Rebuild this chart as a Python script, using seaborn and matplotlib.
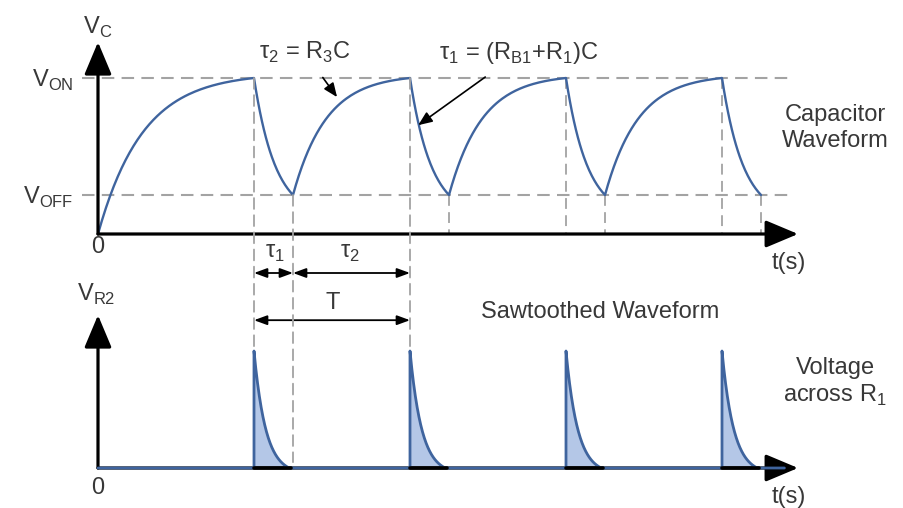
import numpy as np
import pandas as pd
import matplotlib
matplotlib.use("Agg")
import matplotlib.pyplot as plt
import seaborn as sns
from matplotlib.patches import ConnectionPatch

# waveform values (time in units of tau1, voltage in same units)
t_peak = [4, 8, 12, 16]        # capacitor reaches V_ON, UJT fires
t_trough = [5, 9, 13, 17]      # capacitor back down at V_OFF
V_ON = 4.0
V_OFF = 1.0
tau_first = 1.15               # first charge from 0 V
tau_charge = 0.85              # later charges from V_OFF
tau_dis = 0.55                 # discharge through RB1 + R1
spike_peak = 3.0               # V_ON - V_OFF across R1
spike_len = 0.9
tau_spike = 0.3

BLUE = "#3f649e"
FILL = "#b4c7e7"
GRAY = "#a3a3a3"
TXT = "#383838"

sns.set_theme(style="white")
plt.rcParams["font.family"] = ["Liberation Sans", "DejaVu Sans"]
plt.rcParams["mathtext.fontset"] = "custom"
plt.rcParams["mathtext.rm"] = "Liberation Sans"
fs = 17


def charge(t0, t1, v0, v1, tau):
    s = np.linspace(0, t1 - t0, 80)
    v = v0 + (v1 - v0) * (1 - np.exp(-s / tau)) / (1 - np.exp(-(t1 - t0) / tau))
    return t0 + s, v


def discharge(t0, t1, v0, v1, tau):
    s = np.linspace(0, t1 - t0, 60)
    b = np.exp(-(t1 - t0) / tau)
    v = v1 + (v0 - v1) * (np.exp(-s / tau) - b) / (1 - b)
    return t0 + s, v


# build capacitor waveform
parts_t, parts_v = [], []
tt, vv = charge(0, t_peak[0], 0, V_ON, tau_first)
parts_t.append(tt); parts_v.append(vv)
for k in range(len(t_peak)):
    tt, vv = discharge(t_peak[k], t_trough[k], V_ON, V_OFF, tau_dis)
    parts_t.append(tt); parts_v.append(vv)
    if k + 1 < len(t_peak):
        tt, vv = charge(t_trough[k], t_peak[k + 1], V_OFF, V_ON, tau_charge)
        parts_t.append(tt); parts_v.append(vv)
cap = pd.DataFrame({"t": np.concatenate(parts_t), "V": np.concatenate(parts_v)})

# build voltage across R1 (spikes)
rt, rv = [0.0], [0.0]
spikes = []
for tp in t_peak:
    s = np.linspace(0, spike_len, 60)
    b = np.exp(-spike_len / tau_spike)
    v = spike_peak * (np.exp(-s / tau_spike) - b) / (1 - b)
    spikes.append((tp + s, v))
    rt += [tp, tp] + list(tp + s)
    rv += [0.0, spike_peak] + list(v)
rt.append(17.6); rv.append(0.0)
vr = pd.DataFrame({"t": rt, "V": rv})

fig = plt.figure(figsize=(9.04, 5.08), dpi=100)
ax_top = fig.add_axes([0, 0.5, 1, 0.5])
ax_bot = fig.add_axes([0, 0, 1, 0.5])
xl = (-98 / 39, (904 - 98) / 39)
ax_top.set_xlim(xl)
ax_top.set_ylim(-20 / 39, 234 / 39)
ax_bot.set_xlim(xl)
ax_bot.set_ylim(-40 / 39, 214 / 39)
for ax in (ax_top, ax_bot):
    ax.set_axis_off()
    ax.patch.set_alpha(0)

dash = dict(color=GRAY, lw=1.5, dashes=(6, 3.5), zorder=1)
vdash = dict(color=GRAY, lw=1.3, dashes=(6, 3.5), zorder=1)

# ---- top: capacitor waveform ----
ax_top.plot([-0.41, 17.8], [V_ON, V_ON], **dash)
ax_top.plot([-0.41, 17.8], [V_OFF, V_OFF], **dash)
for tp in t_peak[2:]:
    ax_top.plot([tp, tp], [V_ON, 0], **vdash)
for tr in t_trough[1:]:
    ax_top.plot([tr, tr], [V_OFF, 0], **vdash)

sns.lineplot(data=cap, x="t", y="V", ax=ax_top, color=BLUE, lw=1.7,
             sort=False, estimator=None, zorder=3)

arrow = dict(arrowstyle="-|>,head_length=1.0,head_width=0.42", mutation_scale=20,
             lw=2.3, color="black", shrinkA=0, shrinkB=0)
ax_top.annotate("", xy=(0, 4.92), xytext=(0, 0), arrowprops=arrow, zorder=4)
ax_top.annotate("", xy=(17.95, 0), xytext=(0, 0), arrowprops=arrow, zorder=4)

# cross-panel dashed guides
for tx, ya, yb in [(t_peak[0], V_ON, spike_peak), (t_trough[0], V_OFF, 0.15),
                   (t_peak[1], V_ON, spike_peak)]:
    cp = ConnectionPatch(xyA=(tx, ya), coordsA=ax_top.transData,
                         xyB=(tx, yb), coordsB=ax_bot.transData,
                         color=GRAY, lw=1.3, linestyle=(0, (6, 3.5)), zorder=1)
    fig.add_artist(cp)

ax_top.text(0, 5.31, "V$_\\mathrm{C}$", fontsize=fs, color=TXT, ha="center", va="center")
ax_top.text(-0.62, 3.95, "V$_\\mathrm{ON}$", fontsize=fs, color=TXT, ha="right", va="center")
ax_top.text(-0.62, 0.95, "V$_\\mathrm{OFF}$", fontsize=fs, color=TXT, ha="right", va="center")
ax_top.text(0, -0.33, "0", fontsize=fs, color=TXT, ha="center", va="center")
ax_top.text(17.72, -0.74, "t(s)", fontsize=fs, color=TXT, ha="center", va="center")
ax_top.text(18.9, 2.72, "Capacitor\nWaveform", fontsize=fs, color=TXT,
            ha="center", va="center", linespacing=1.2)

small = dict(arrowstyle="-|>,head_length=0.6,head_width=0.25", mutation_scale=14,
             lw=1.2, color="black", shrinkA=0, shrinkB=0)
ax_top.annotate("τ$_\\mathrm{2}$ = R$_\\mathrm{3}$C", xy=(6.13, 3.51), xytext=(5.3, 4.65),
                fontsize=fs, color=TXT, ha="center", va="center",
                arrowprops=dict(small, shrinkA=8))
ax_top.annotate("τ$_\\mathrm{1}$ = (R$_\\mathrm{B1}$+R$_\\mathrm{1}$)C", xy=(8.21, 2.79),
                xytext=(10.8, 4.65), fontsize=fs, color=TXT, ha="center", va="center",
                arrowprops=dict(small, shrinkA=10))

# ---- bottom: voltage across R1 ----
for tt, vv in spikes:
    ax_bot.fill_between(tt, 0, vv, color=FILL, lw=0, zorder=2)
ax_bot.annotate("", xy=(0, 3.92), xytext=(0, 0), arrowprops=arrow, zorder=4)
ax_bot.annotate("", xy=(17.95, 0), xytext=(0, 0), arrowprops=arrow, zorder=4)
sns.lineplot(data=vr, x="t", y="V", ax=ax_bot, color=BLUE, lw=2.0,
             sort=False, estimator=None, zorder=5)
for tp in t_peak:
    ax_bot.plot([tp, tp + spike_len + 0.05], [0, 0], color="black", lw=2.6, zorder=6)

dbl = dict(arrowstyle="<|-|>,head_length=0.6,head_width=0.22", mutation_scale=13,
           lw=1.3, color="black", shrinkA=0, shrinkB=0)
ax_bot.annotate("", xy=(t_trough[0], 5.0), xytext=(t_peak[0], 5.0), arrowprops=dbl)
ax_bot.annotate("", xy=(t_peak[1], 5.0), xytext=(t_trough[0], 5.0), arrowprops=dbl)
ax_bot.annotate("", xy=(t_peak[1], 3.79), xytext=(t_peak[0], 3.79), arrowprops=dbl)
ax_bot.text(4.54, 5.5, "τ$_\\mathrm{1}$", fontsize=fs, color=TXT, ha="center", va="center")
ax_bot.text(6.46, 5.5, "τ$_\\mathrm{2}$", fontsize=fs, color=TXT, ha="center", va="center")
ax_bot.text(6.03, 4.23, "T", fontsize=fs, color=TXT, ha="center", va="center")

ax_bot.text(-0.05, 4.44, "V$_\\mathrm{R2}$", fontsize=fs, color=TXT, ha="center", va="center")
ax_bot.text(0, -0.51, "0", fontsize=fs, color=TXT, ha="center", va="center")
ax_bot.text(17.72, -0.74, "t(s)", fontsize=fs, color=TXT, ha="center", va="center")
ax_bot.text(12.87, 4.0, "Sawtoothed Waveform", fontsize=fs, color=TXT, ha="center", va="center")
ax_bot.text(18.9, 2.2, "Voltage\nacross R$_\\mathrm{1}$", fontsize=fs, color=TXT,
            ha="center", va="center", linespacing=1.2)

fig.savefig("out.png", dpi=100, facecolor="white")
